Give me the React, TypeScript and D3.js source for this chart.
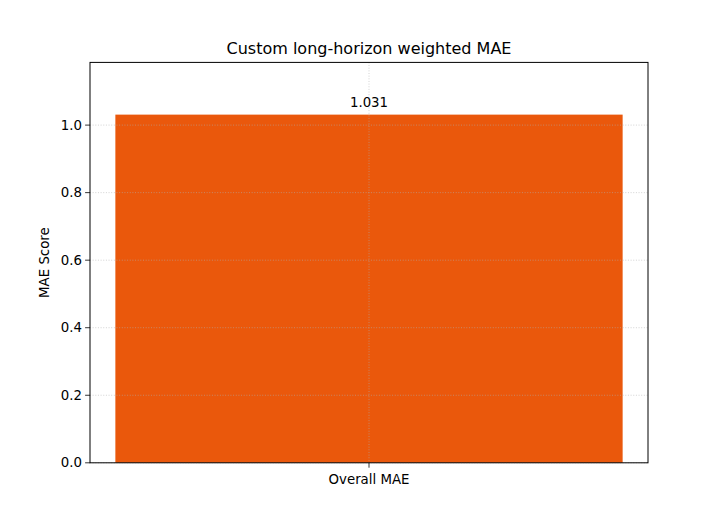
import React from 'react';
import * as d3 from 'd3';

const categories = ['Overall MAE'];
const scores = [1.031];
const yTicks = [0.0, 0.2, 0.4, 0.6, 0.8, 1.0];

const W = 720;
const H = 520;
const margin = { left: 90, right: 72, top: 62.4, bottom: 57.2 };
const barColor = '#ea580c';
const font = 'DejaVu Sans, sans-serif';

const App: React.FC = () => {
  const innerW = W - margin.left - margin.right;
  const innerH = H - margin.top - margin.bottom;

  // matplotlib-ish: bar width 0.8, 5% x margin
  const x = d3.scaleLinear().domain([-0.44, categories.length - 1 + 0.44]).range([0, innerW]);
  const yMax = (d3.max(scores) as number) * 1.15;
  const y = d3.scaleLinear().domain([0, yMax]).range([innerH, 0]);

  return (
    <svg width={W} height={H} style={{ position: 'absolute', left: 0, top: 0, background: '#fff' }}>
      <g transform={`translate(${margin.left},${margin.top})`}>
        {categories.map((c, i) => (
          <rect
            key={c}
            x={x(i - 0.4)}
            width={x(i + 0.4) - x(i - 0.4)}
            y={y(scores[i])}
            height={innerH - y(scores[i])}
            fill={barColor}
          />
        ))}
        {/* grid on top of bars */}
        {yTicks.map((t) => (
          <line key={'gy' + t} x1={0} x2={innerW} y1={y(t)} y2={y(t)}
            stroke="#b0b0b0" strokeOpacity={0.7} strokeWidth={0.8} strokeDasharray="1,1.65" />
        ))}
        {categories.map((c, i) => (
          <line key={'gx' + c} x1={x(i)} x2={x(i)} y1={0} y2={innerH}
            stroke="#b0b0b0" strokeOpacity={0.7} strokeWidth={0.8} strokeDasharray="1,1.65" />
        ))}
        {categories.map((c, i) => (
          <text key={'v' + c} x={x(i)} y={y(scores[i]) - 8} textAnchor="middle"
            fontFamily={font} fontSize={13.33} fill="#000">
            {scores[i].toFixed(3)}
          </text>
        ))}
        <rect x={0} y={0} width={innerW} height={innerH} fill="none" stroke="#000" strokeWidth={1} />
        {yTicks.map((t) => (
          <g key={'ty' + t} transform={`translate(0,${y(t)})`}>
            <line x1={-4.9} x2={0} stroke="#000" strokeWidth={0.8} />
            <text x={-8} dy="0.35em" textAnchor="end" fontFamily={font} fontSize={13.33} fill="#000">
              {t.toFixed(1)}
            </text>
          </g>
        ))}
        {categories.map((c, i) => (
          <g key={'tx' + c} transform={`translate(${x(i)},${innerH})`}>
            <line y1={0} y2={4.9} stroke="#000" strokeWidth={0.8} />
            <text y={21} textAnchor="middle" fontFamily={font} fontSize={13.33} fill="#000">{c}</text>
          </g>
        ))}
        <text transform={`translate(${-41},${innerH / 2}) rotate(-90)`} textAnchor="middle"
          fontFamily={font} fontSize={13.33} fill="#000">MAE Score</text>
        <text x={innerW / 2} y={-8} textAnchor="middle" fontFamily={font} fontSize={16} fill="#000">
          Custom long-horizon weighted MAE
        </text>
      </g>
    </svg>
  );
};

export default App;
